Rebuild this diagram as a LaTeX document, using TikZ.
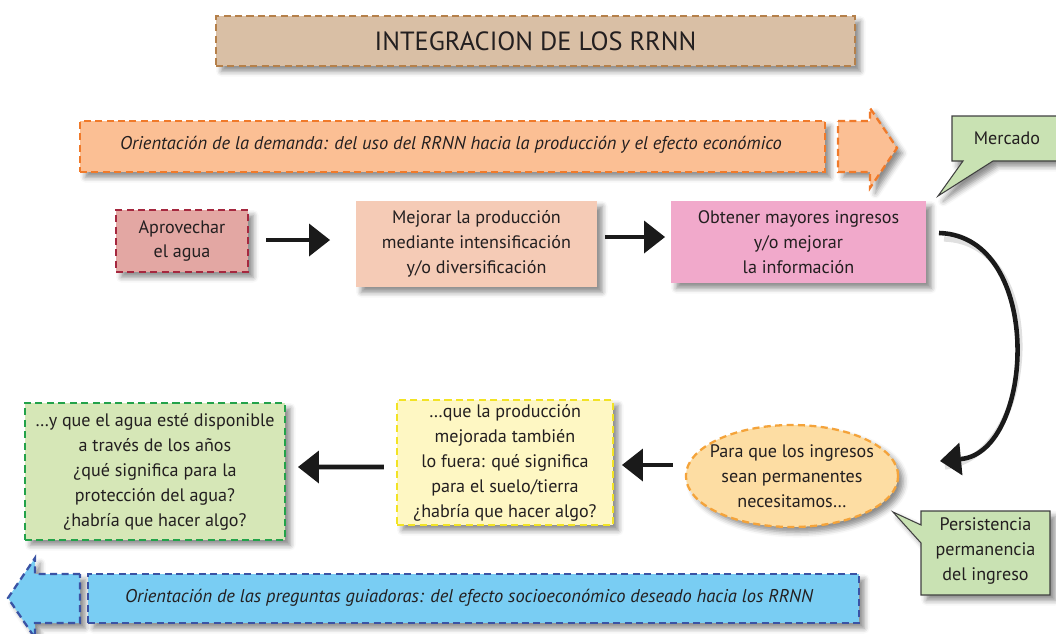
\documentclass[tikz,border=0pt]{standalone}
\usepackage{fontspec}
\setmainfont{PT Sans}
\usetikzlibrary{arrows.meta,shapes.geometric,shadows.blur}
\definecolor{txt}{HTML}{231F20}
\definecolor{titlefill}{HTML}{D9BFA5}
\definecolor{titledraw}{HTML}{B5804A}
\definecolor{orfill}{HTML}{FBBF94}
\definecolor{ordraw}{HTML}{F07A2A}
\definecolor{apfill}{HTML}{E3A7A3}
\definecolor{apdraw}{HTML}{A5283F}
\definecolor{mejfill}{HTML}{F5CBB6}
\definecolor{obtfill}{HTML}{F1A9CB}
\definecolor{calfill}{HTML}{C9E2B3}
\definecolor{caldraw}{HTML}{404040}
\definecolor{elfill}{HTML}{FDDDA3}
\definecolor{eldraw}{HTML}{F4A33A}
\definecolor{yefill}{HTML}{FEF7C3}
\definecolor{yedraw}{HTML}{F2E324}
\definecolor{grfill}{HTML}{D6E7B7}
\definecolor{grdraw}{HTML}{23A24A}
\definecolor{blfill}{HTML}{79CDF3}
\definecolor{bldraw}{HTML}{3A53A4}
\definecolor{arr}{HTML}{1A1A1A}
\tikzset{
  wh/.style 2 args={minimum width=#1*0.02cm, minimum height=#2*0.02cm},
  shad/.style={blur shadow={shadow xshift=3pt, shadow yshift=-3pt, shadow blur radius=3pt, shadow opacity=45}},
  bodyfont/.style={font=\fontsize{10.3}{14.2}\selectfont},
  dashbox/.style={rectangle, line width=1.3pt, dash pattern=on 4pt off 2.5pt, shad, inner sep=0pt, text=txt, align=center, bodyfont},
  plainbox/.style={rectangle, shad, inner sep=0pt, text=txt, align=center, bodyfont},
  tip/.style={-{Triangle[length=0.42cm,width=0.66cm,fill=arr,line width=0pt]}},
  flow/.style={draw=arr, line width=2.6pt, tip},
  banner/.style={font=\fontsize{10.5}{12}\selectfont\itshape, text=txt},
}
\begin{document}
\begin{tikzpicture}[x=0.02cm,y=-0.02cm]
\useasboundingbox (0,0) rectangle (1056,633);
% title
\node[dashbox, fill=titlefill, draw=titledraw, wh={639}{50}, font=\fontsize{15}{18}\selectfont] (title) at (535.5,41) {INTEGRACION DE LOS RRNN};
% orange banner
\node[dashbox, fill=orfill, draw=ordraw, wh={745}{51}] (obanner) at (452.5,146.5) {};
\node[banner] (otext) at (451,145) {Orientación de la demanda: del uso del RRNN hacia la producción y el efecto económico};
\draw[fill=orfill, draw=ordraw, line width=1.3pt, dash pattern=on 4pt off 2.5pt, shad]
  (838,121) -- (870,121) -- (870,108) -- (897,148) -- (870,188) -- (870,172) -- (838,172) -- cycle;
% Mercado callout
\draw[fill=calfill, draw=caldraw, line width=0.6pt, shad]
  (952,116) -- (1062,116) -- (1062,161) -- (993,161) -- (938,196) -- (963,161) -- (952,161) -- cycle;
\node[text=txt, bodyfont] (mercado) at (1007,138) {Mercado};
% top row
\node[dashbox, fill=apfill, draw=apdraw, wh={132}{62}] (aprov) at (182,241) {Aprovechar\\el agua};
\node[plainbox, fill=mejfill, wh={241}{86}] (mejorar) at (476.5,244) {Mejorar la producción\\mediante intensificación\\y/o diversificación};
\node[plainbox, fill=obtfill, wh={255}{82}] (obtener) at (798.5,242) {Obtener mayores ingresos\\y/o mejorar\\la información};
\draw[flow] (aprov.east) ++(17,-1) coordinate (a1s) (a1s) -- (330,240);
\draw[flow] (mejorar.east) ++(8,-7) coordinate (a2s) (a2s) -- (665,237);
% curved arrow
\coordinate (cstart) at (939,233);
\coordinate (cend) at (940,461);
\draw[line width=3pt, draw=black!35, opacity=0.35] ([shift={(5,6)}]cstart) .. controls (1050,242) and (1040,456) .. ([shift={(5,6)}]cend);
\draw[flow] (cstart) .. controls (1045,236) and (1035,452) .. (cend);
% ellipse
\node[ellipse, fill=elfill, draw=eldraw, line width=1.3pt, dash pattern=on 4pt off 2.5pt, shad, wh={210}{102}, inner xsep=-4pt, inner ysep=-1.5pt, text=txt, align=center, bodyfont] (ell) at (792,476) {Para que los ingresos\\sean permanentes\\necesitamos…};
% Persistencia callout
\draw[fill=calfill, draw=caldraw, line width=0.6pt, shad]
  (921,511) -- (1050,511) -- (1050,595) -- (921,595) -- (921,543) -- (893,512) -- (921,525) -- cycle;
\node[text=txt, align=center, bodyfont] (persist) at (985.5,551) {Persistencia\\permanencia\\del ingreso};
% bottom row
\node[dashbox, fill=yefill, draw=yedraw, wh={216}{125}] (yellow) at (505,462.5) {…que la producción\\mejorada también\\lo fuera: qué significa\\para el suelo/tierra\\¿habría que hacer algo?};
\node[dashbox, fill=grfill, draw=grdraw, wh={260}{137}] (green) at (155,471.5) {…y que el agua esté disponible\\a través de los años\\¿qué significa para la\\protección del agua?\\¿habría que hacer algo?};
\draw[flow] (ell.west) ++(-12,-11) coordinate (a3s) (a3s) -- (622,465);
\draw[flow] (yellow.west) ++(-12,4.5) coordinate (a4s) (a4s) -- (298,467);
% blue banner
\draw[fill=blfill, draw=bldraw, line width=1.3pt, dash pattern=on 4pt off 2.5pt, shad]
  (80,574) -- (35,574) -- (35,558) -- (8,598) -- (35,638) -- (35,623) -- (80,623) -- cycle;
\node[dashbox, fill=blfill, draw=bldraw, wh={771}{49}] (bbanner) at (473.5,598.5) {};
\node[banner] (btext) at (469,598) {Orientación de las preguntas guiadoras: del efecto socioeconómico deseado hacia los RRNN};
\end{tikzpicture}
\end{document}
